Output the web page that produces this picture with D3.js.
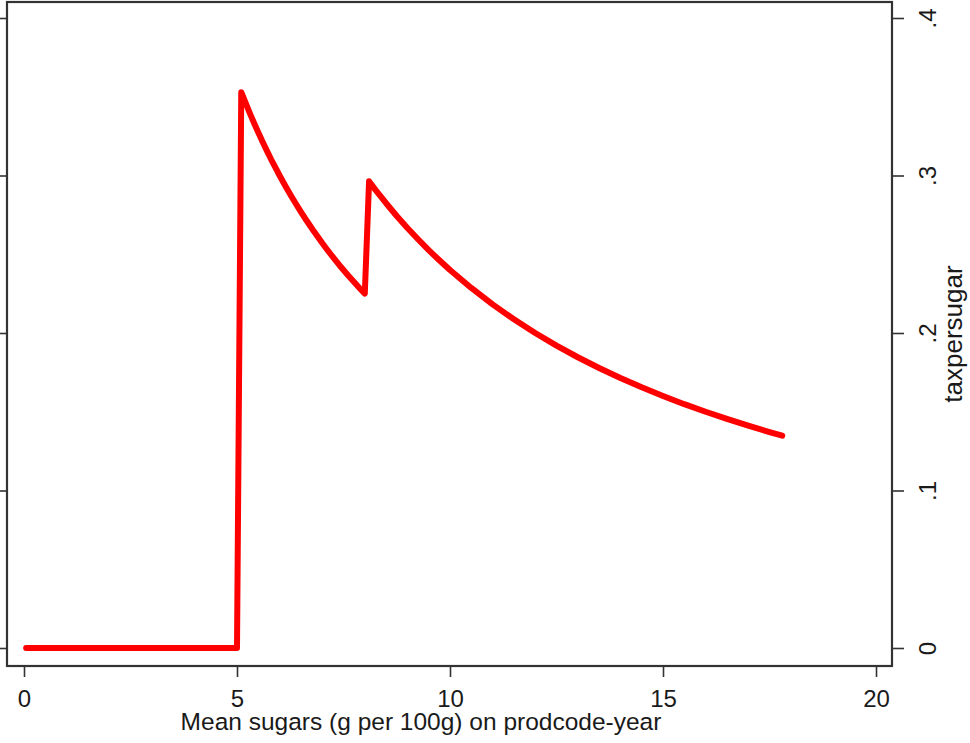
<!DOCTYPE html>
<html>
<head>
<meta charset="utf-8">
<script src="https://cdn.jsdelivr.net/npm/d3@7"></script>
<style>
  html, body { margin: 0; padding: 0; background: #fff; }
  svg { display: block; font-family: "Liberation Sans", Arial, sans-serif; }
</style>
</head>
<body>
<svg id="chart" width="970" height="743"></svg>
<script>
// Data
const sugars = [0.05, 5.0,
  5.1, 5.2, 5.3, 5.4, 5.5, 5.6, 5.7, 5.8, 5.9, 6.0, 6.1, 6.2, 6.3, 6.4, 6.5, 6.6, 6.7, 6.8, 6.9,
  7.0, 7.1, 7.2, 7.3, 7.4, 7.5, 7.6, 7.7, 7.8, 7.9, 8.0,
  8.1, 8.25, 8.5, 8.75, 9.0, 9.25, 9.5, 9.75, 10.0, 10.5, 11.0, 11.5, 12.0, 12.5, 13.0, 13.5,
  14.0, 14.5, 15.0, 15.5, 16.0, 16.5, 17.0, 17.5, 17.8];
const taxpersugar = [0, 0,
  0.3529, 0.3462, 0.3396, 0.3333, 0.3273, 0.3214, 0.3158, 0.3103, 0.3051, 0.3000, 0.2951, 0.2903,
  0.2857, 0.2813, 0.2769, 0.2727, 0.2687, 0.2647, 0.2609,
  0.2571, 0.2535, 0.2500, 0.2466, 0.2432, 0.2400, 0.2368, 0.2338, 0.2308, 0.2278, 0.2250,
  0.2963, 0.2909, 0.2824, 0.2743, 0.2667, 0.2595, 0.2526, 0.2462, 0.2400, 0.2286, 0.2182, 0.2087,
  0.2000, 0.1920, 0.1846, 0.1778, 0.1714, 0.1655, 0.1600, 0.1548, 0.1500, 0.1455, 0.1412, 0.1371, 0.1348];
const xTicks = [0, 5, 10, 15, 20];
const xTickLabels = ["0", "5", "10", "15", "20"];
const yTicks = [0, 0.1, 0.2, 0.3, 0.4];
const yTickLabels = ["0", ".1", ".2", ".3", ".4"];
const xTitle = "Mean sugars (g per 100g) on prodcode-year";
const yTitle = "taxpersugar";

const svg = d3.select("#chart");
const frame = {left: 7, right: 892, top: 2, bottom: 666};
const x = d3.scaleLinear().domain([0, 20]).range([24, 876]);
const y = d3.scaleLinear().domain([0, 0.4]).range([648, 18]);
const axisColor = "#333";
const textColor = "#1a1a1a";

// Bottom axis
const gx = svg.append("g").attr("transform", `translate(0,${frame.bottom})`)
  .call(d3.axisBottom(x).tickValues(xTicks).tickFormat((d, i) => xTickLabels[i]).tickSize(11).tickSizeOuter(0));
gx.select(".domain").remove();
gx.selectAll(".tick line").attr("stroke", axisColor).attr("stroke-width", 1.6);
gx.selectAll(".tick text").attr("y", 41).attr("dy", 0)
  .attr("font-size", 24).attr("fill", textColor).attr("font-family", "Liberation Sans, Arial, sans-serif");

// Left axis (ticks only)
const gl = svg.append("g").attr("transform", `translate(${frame.left},0)`)
  .call(d3.axisLeft(y).tickValues(yTicks).tickFormat("").tickSize(8).tickSizeOuter(0));
gl.select(".domain").remove();
gl.selectAll(".tick line").attr("stroke", axisColor).attr("stroke-width", 1.6);

// Right axis
const gr = svg.append("g").attr("transform", `translate(${frame.right},0)`)
  .call(d3.axisRight(y).tickValues(yTicks).tickFormat((d, i) => yTickLabels[i]).tickSize(12).tickSizeOuter(0));
gr.select(".domain").remove();
gr.selectAll(".tick line").attr("stroke", axisColor).attr("stroke-width", 1.6);
gr.selectAll(".tick text")
  .attr("x", null).attr("dy", null)
  .attr("transform", "translate(44,0) rotate(-90)")
  .attr("text-anchor", "middle")
  .attr("font-size", 24).attr("fill", textColor).attr("font-family", "Liberation Sans, Arial, sans-serif");

// Frame
svg.append("rect")
  .attr("x", frame.left).attr("y", frame.top)
  .attr("width", frame.right - frame.left).attr("height", frame.bottom - frame.top)
  .attr("fill", "none").attr("stroke", axisColor).attr("stroke-width", 2.2);

// Line
const pts = sugars.map((s, i) => [s, taxpersugar[i]]);
svg.append("path")
  .datum(pts)
  .attr("fill", "none")
  .attr("stroke", "#ff0000")
  .attr("stroke-width", 6)
  .attr("stroke-linejoin", "round")
  .attr("stroke-linecap", "round")
  .attr("d", d3.line().x(d => x(d[0])).y(d => y(d[1])));

// Titles
svg.append("text")
  .attr("x", 421).attr("y", 730)
  .attr("text-anchor", "middle")
  .attr("font-size", 24.5).attr("fill", textColor)
  .text(xTitle);

svg.append("text")
  .attr("transform", "translate(962,334) rotate(-90)")
  .attr("text-anchor", "middle")
  .attr("font-size", 26).attr("fill", textColor)
  .text(yTitle);
</script>
</body>
</html>
